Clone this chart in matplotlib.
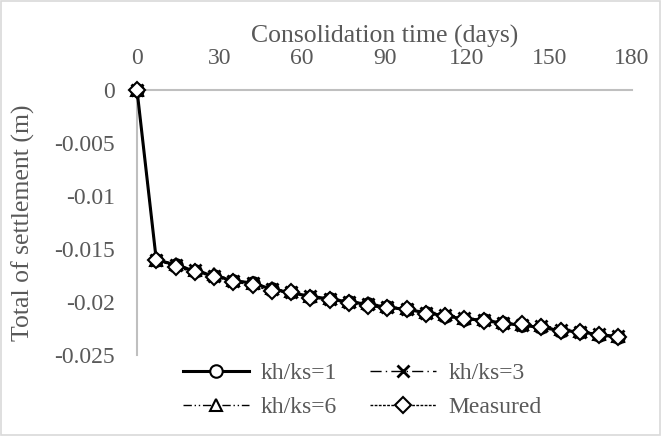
import matplotlib
matplotlib.use("Agg")
import matplotlib.pyplot as plt
from matplotlib.patches import Rectangle

days = [0, 7, 14, 21, 28, 35, 42, 49, 56, 63, 70, 77, 84, 91, 98, 105, 112,
        119, 126, 133, 140, 147, 154, 161, 168, 175]
kh1 = [0, -0.0160, -0.0165, -0.0171, -0.0175, -0.0180, -0.0182, -0.0188,
       -0.0191, -0.0195, -0.0197, -0.0200, -0.0202, -0.0205, -0.0207, -0.0210,
       -0.0213, -0.0216, -0.0217, -0.0220, -0.0222, -0.0224, -0.0227, -0.0228,
       -0.0231, -0.0233]
kh3 = [0, -0.0160, -0.0165, -0.0170, -0.0175, -0.0180, -0.0182, -0.0188,
       -0.0191, -0.0194, -0.0197, -0.0200, -0.0202, -0.0205, -0.0207, -0.0210,
       -0.0212, -0.0215, -0.0217, -0.0220, -0.0222, -0.0223, -0.0226, -0.0228,
       -0.0230, -0.0232]
kh6 = [0, -0.0160, -0.0164, -0.0170, -0.0174, -0.0179, -0.0182, -0.0187,
       -0.0190, -0.0194, -0.0196, -0.0199, -0.0201, -0.0204, -0.0206, -0.0209,
       -0.0211, -0.0215, -0.0216, -0.0219, -0.0221, -0.0222, -0.0225, -0.0227,
       -0.0230, -0.0232]
measured = [0, -0.0160, -0.0167, -0.0172, -0.0176, -0.0181, -0.0184, -0.0190,
            -0.0191, -0.0196, -0.0198, -0.0201, -0.0204, -0.0206, -0.0207, -0.0211,
            -0.0213, -0.0216, -0.0218, -0.0221, -0.0221, -0.0224, -0.0227, -0.0228,
            -0.0231, -0.0233]

xticks = [0, 30, 60, 90, 120, 150, 180]
yticks = [0, -0.005, -0.01, -0.015, -0.02, -0.025]
ytick_labels = ["0", "-0.005", "-0.01", "-0.015", "-0.02", "-0.025"]
names = ["kh/ks=1", "kh/ks=3", "kh/ks=6", "Measured"]

plt.rcParams['font.family'] = ['Liberation Serif', 'DejaVu Serif']
txt = '#595959'
grid = '#bfbfbf'

fig = plt.figure(figsize=(6.61, 4.36), dpi=100)
fig.patches.append(Rectangle((0.002, 0.003), 0.996, 0.994, transform=fig.transFigure,
                             fill=False, edgecolor='#d9d9d9', linewidth=1.2))
ax = fig.add_axes([137/661, 1-355/436, (632-137)/661, (355-90)/436])

ms = 9
h1, = ax.plot(days, kh1, color='black', lw=2.2, ls='-', marker='o', ms=ms,
              mfc='white', mec='black', mew=1.5, label=names[0], clip_on=False, zorder=3)
h3, = ax.plot(days, kh3, color='black', lw=1.0, ls=(0, (8, 3, 1, 3)), marker='x', ms=ms,
              mec='black', mew=2, label=names[1], clip_on=False, zorder=4)
h6, = ax.plot(days, kh6, color='black', lw=1.0, ls=(0, (6, 2, 1, 2, 1, 2)), marker='^', ms=ms,
              mfc='white', mec='black', mew=1.5, label=names[2], clip_on=False, zorder=5)
hm, = ax.plot(days, measured, color='black', lw=1.0, ls=(0, (2, 1)), marker='D', ms=ms-1,
              mfc='white', mec='black', mew=1.5, label=names[3], clip_on=False, zorder=6)

ax.set_xlim(0, 180)
ax.set_ylim(-0.025, 0)
ax.set_xticks(xticks)
ax.set_xticklabels([str(t) for t in xticks])
ax.set_yticks(yticks)
ax.set_yticklabels(ytick_labels)
ax.xaxis.tick_top()
ax.xaxis.set_label_position('top')
ax.tick_params(axis='both', length=0, labelsize=17, colors=txt)
ax.tick_params(axis='y', pad=16)
ax.tick_params(axis='x', pad=15)
for s in ['right', 'bottom']:
    ax.spines[s].set_visible(False)
ax.spines['left'].set_color(grid)
ax.spines['top'].set_color(grid)
ax.spines['left'].set_linewidth(1.5)
ax.spines['top'].set_linewidth(1.5)
ax.set_xlabel("Consolidation time (days)", fontsize=18.5, color=txt, labelpad=4)
ax.set_ylabel("Total of settlement (m)", fontsize=18.5, color=txt, labelpad=14)

leg = ax.legend([h1, h6, h3, hm], [names[0], names[2], names[1], names[3]],
                loc='upper center', bbox_to_anchor=(0.455, 0.008), ncol=2, frameon=False,
                fontsize=17, labelcolor=txt, handlelength=2.8, columnspacing=1.4,
                handletextpad=0.5, labelspacing=0.55, borderaxespad=0)

fig.savefig("out.png", dpi=100)
